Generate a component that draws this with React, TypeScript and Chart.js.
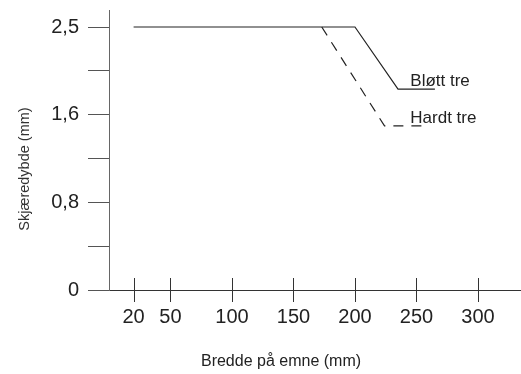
import React, { useEffect, useRef } from "react";
import { Chart, registerables } from "chart.js";

Chart.register(...registerables);

const FONT = "'Liberation Sans', Arial, Helvetica, sans-serif";

// Axis ticks
const X_TICKS = [20, 50, 100, 150, 200, 250, 300];
const Y_TICK_VALUES = [0, 0.4167, 0.8333, 1.25, 1.6667, 2.0833, 2.5];
const Y_TICK_LABELS = ["0", "", "0,8", "", "1,6", "", "2,5"];

// Series
const SOFT_X = [20, 200, 235, 265];
const SOFT_Y = [2.5, 2.5, 1.91, 1.91];
const HARD_X = [173, 224, 256];
const HARD_Y = [2.5, 1.56, 1.56];

// Series label anchors (data units)
const SERIES_NAMES = ["Bløtt tre", "Hardt tre"];
const LABEL_X = [245, 245];
const LABEL_Y = [1.94, 1.585];

const X_TITLE = "Bredde på emne (mm)";
const Y_TITLE = "Skjæredybde (mm)";

const overlayPlugin = {
  id: "overlay",
  afterDraw(chart: any) {
    const { ctx, scales, chartArea } = chart;
    const x = scales.x;
    const y = scales.y;
    ctx.save();
    // crossing ticks on x axis
    ctx.strokeStyle = "#333";
    ctx.lineWidth = 1;
    const y0 = Math.round(y.getPixelForValue(0));
    X_TICKS.forEach((v) => {
      const px = Math.round(x.getPixelForValue(v)) + 0.5;
      ctx.beginPath();
      ctx.moveTo(px, y0 - 12);
      ctx.lineTo(px, y0 + 12);
      ctx.stroke();
    });
    // series labels
    ctx.fillStyle = "#222";
    ctx.font = `17px ${FONT}`;
    ctx.textAlign = "left";
    ctx.textBaseline = "alphabetic";
    SERIES_NAMES.forEach((n, i) => {
      ctx.fillText(n, x.getPixelForValue(LABEL_X[i]), y.getPixelForValue(LABEL_Y[i]));
    });
    // x title
    ctx.font = `16px ${FONT}`;
    ctx.fillStyle = "#222";
    ctx.textAlign = "center";
    ctx.textBaseline = "middle";
    ctx.fillText(X_TITLE, 281, 362);
    // y title
    ctx.font = `14.5px ${FONT}`;
    ctx.fillStyle = "#333";
    ctx.translate(25, (chartArea.top + chartArea.bottom) / 2 + 19);
    ctx.rotate(-Math.PI / 2);
    ctx.textAlign = "center";
    ctx.textBaseline = "middle";
    ctx.fillText(Y_TITLE, 0, 0);
    ctx.restore();
  },
};

export default function App() {
  const canvasRef = useRef<HTMLCanvasElement | null>(null);

  useEffect(() => {
    if (!canvasRef.current) return;
    Chart.defaults.font.family = FONT;
    const chart = new Chart(canvasRef.current, {
      type: "line",
      data: {
        datasets: [
          {
            label: SERIES_NAMES[0],
            data: SOFT_X.map((v, i) => ({ x: v, y: SOFT_Y[i] })),
            borderColor: "#222",
            borderWidth: 1.2,
            pointRadius: 0,
            fill: false,
            tension: 0,
          },
          {
            label: SERIES_NAMES[1],
            data: HARD_X.map((v, i) => ({ x: v, y: HARD_Y[i] })),
            borderColor: "#222",
            borderWidth: 1.2,
            borderDash: [10, 8],
            pointRadius: 0,
            fill: false,
            tension: 0,
          },
        ],
      },
      options: {
        responsive: false,
        animation: false,
        layout: { padding: { top: 10, left: 0, right: 0, bottom: 0 } },
        plugins: {
          legend: { display: false },
          tooltip: { enabled: false },
        },
        scales: {
          x: {
            type: "linear",
            position: "bottom",
            min: 0,
            max: 335,
            grid: { display: false, drawTicks: false },
            border: { display: true, color: "#333", width: 1 },
            ticks: {
              autoSkip: false,
              maxRotation: 0,
              padding: 15,
              color: "#222",
              font: { size: 20, family: FONT },
            },
            afterBuildTicks: (s: any) => {
              s.ticks = X_TICKS.map((v) => ({ value: v }));
            },
            afterFit: (s: any) => {
              s.height = 84;
              s.paddingLeft = 0;
              s.paddingRight = 0;
            },
          },
          y: {
            type: "linear",
            min: 0,
            max: 2.6616,
            grid: {
              display: true,
              drawOnChartArea: false,
              drawTicks: true,
              tickLength: 21,
              color: "#555",
              lineWidth: 1,
            },
            border: { display: true, color: "#666", width: 1 },
            ticks: {
              autoSkip: false,
              padding: 9,
              color: "#222",
              font: { size: 20, family: FONT },
              callback: (_v: any, i: number) => Y_TICK_LABELS[i],
            },
            afterBuildTicks: (s: any) => {
              s.ticks = Y_TICK_VALUES.map((v) => ({ value: v }));
            },
            afterFit: (s: any) => {
              s.width = 109;
              s.paddingTop = 0;
              s.paddingBottom = 0;
            },
          },
        },
      },
      plugins: [overlayPlugin],
    } as any);
    return () => chart.destroy();
  }, []);

  return (
    <div style={{ position: "absolute", left: 0, top: 0, width: 521, height: 374, background: "#fff" }}>
      <canvas ref={canvasRef} width={521} height={374} style={{ display: "block" }} />
    </div>
  );
}
